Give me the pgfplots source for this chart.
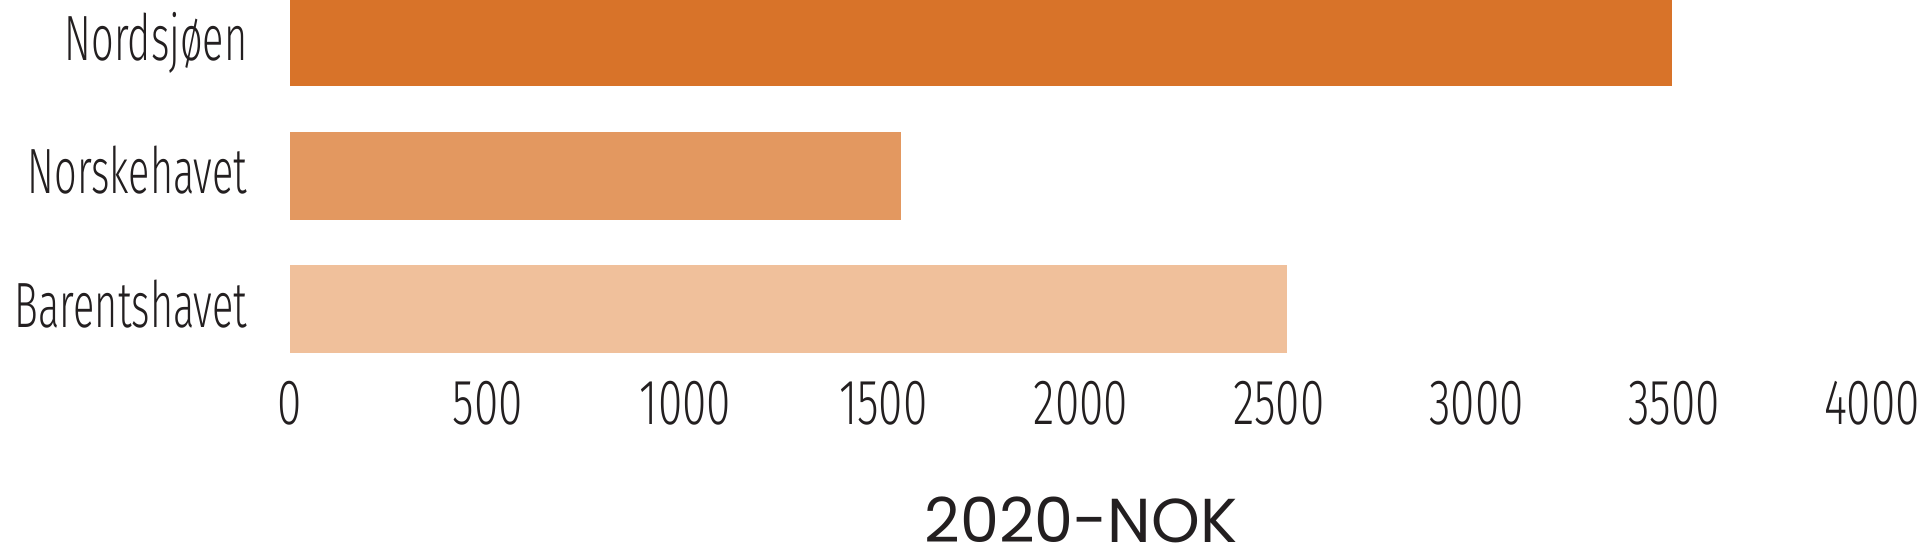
\documentclass[border=0pt]{standalone}
\usepackage{fontspec}
\setmainfont{Fira Sans Light}[FakeStretch=0.62]
\newfontfamily\tickfont{Fira Sans Light}[FakeStretch=0.69]
\newfontfamily\xlabfont{Poppins}
\usepackage{pgfplots}
\pgfplotsset{compat=1.18}

\definecolor{barA}{RGB}{216,115,41}
\definecolor{barB}{RGB}{227,152,96}
\definecolor{barC}{RGB}{240,192,155}
\definecolor{txt}{RGB}{35,31,32}

\begin{document}
\begin{tikzpicture}
\begin{axis}[
    at={(0,0)}, anchor=south west,
    scale only axis,
    width=395.5pt, height=93.94pt,
    xbar, bar width=22pt, bar shift=0pt,
    xmin=0, xmax=4000,
    ymin=-0.5, ymax=2.3146,
    xtick={0,500,...,4000},
    ytick={0,1,2},
    yticklabels={Barentshavet,Norskehavet,Nordsjøen},
    axis line style={draw=none},
    major tick length=0pt,
    clip=false,
    /pgf/number format/assume math mode=true,
    /pgf/number format/1000 sep={},
    ticklabel style={font=\fontsize{16}{18}\selectfont, text=txt, inner sep=0pt},
    xticklabel style={font=\tickfont\fontsize{16}{18}\selectfont, anchor=base, yshift=-12.06pt},
    yticklabel style={anchor=base east, xshift=-10.5pt, yshift=-4.5pt},
    xlabel={2020-NOK},
    xlabel style={font=\xlabfont\fontsize{15.5}{18}\selectfont, text=txt,
        at={(axis description cs:0.5,0)}, anchor=base, inner sep=0pt,
        yshift=-41.8pt},
]
\addplot[draw=none, fill=barA] coordinates {(3495,2)};
\addplot[draw=none, fill=barB] coordinates {(1545,1)};
\addplot[draw=none, fill=barC] coordinates {(2520,0)};
\end{axis}
\pgfresetboundingbox
\path (-72.5pt,-45.81pt) rectangle (407.5pt,93.94pt);
\end{tikzpicture}
\end{document}
